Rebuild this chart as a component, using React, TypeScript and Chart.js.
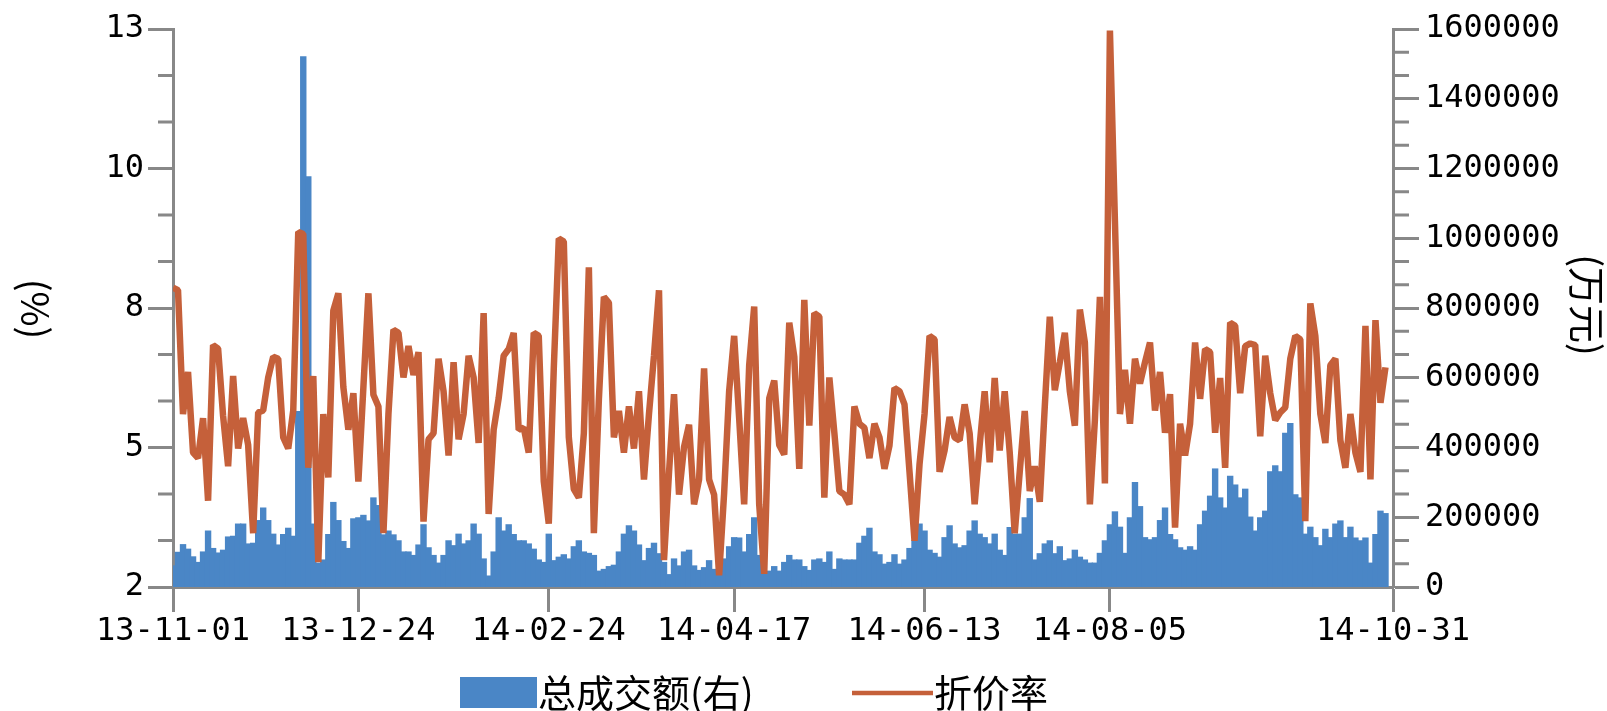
import React, { useEffect, useRef } from 'react';
import { Chart, registerables } from 'chart.js';

Chart.register(...registerables);

// ---- Data ----
const SERIES_NAMES = ['总成交额(右)', '折价率'];
const AXIS_TITLES = ['(%)', '(万元)'];

const X_TICK_POS = [0, 37, 75, 112, 150, 187, 243.5];
const X_TICK_LABELS = ['13-11-01', '13-12-24', '14-02-24', '14-04-17', '14-06-13', '14-08-05', '14-10-31'];

const Y_LEFT_TICK_VALUES = [2, 4.75, 7.5, 10.25, 13];
const Y_LEFT_TICK_LABELS = ['2', '5', '8', '10', '13'];

// 折价率 (%)
const DISCOUNT_RATE = [
  7.90, 7.85, 5.41, 6.24, 4.65, 4.54, 5.33, 3.70, 6.77, 6.70,
  5.37, 4.38, 6.16, 4.73, 5.33, 4.80, 3.06, 5.44, 5.48, 6.13,
  6.54, 6.50, 4.95, 4.73, 5.48, 9.00, 8.96, 4.35, 6.16, 2.49,
  5.41, 4.16, 7.45, 7.79, 5.94, 5.10, 5.82, 4.08, 5.94, 7.79,
  5.79, 5.56, 3.06, 5.41, 7.07, 7.01, 6.13, 6.75, 6.18, 6.63,
  3.29, 4.91, 5.03, 6.50, 5.86, 4.59, 6.43, 4.91, 5.41, 6.56,
  6.13, 4.84, 7.40, 3.44, 5.10, 5.72, 6.56, 6.69, 7.01, 5.10,
  5.14, 4.65, 7.01, 6.95, 4.08, 3.25, 6.31, 8.87, 8.81, 4.95,
  3.93, 3.76, 5.03, 8.30, 3.06, 5.70, 7.72, 7.60, 4.95, 5.47,
  4.65, 5.56, 4.73, 5.86, 4.12, 5.41, 6.56, 7.85, 2.53, 4.26,
  5.80, 3.82, 4.76, 5.20, 3.63, 4.12, 6.31, 4.12, 3.82, 2.23,
  3.85, 5.86, 6.95, 5.33, 3.63, 6.37, 7.53, 3.63, 2.26, 5.72,
  6.07, 4.80, 4.61, 7.21, 6.54, 4.33, 7.66, 5.18, 7.40, 7.33,
  3.76, 6.13, 5.04, 3.89, 3.82, 3.63, 5.56, 5.22, 5.14, 4.54,
  5.22, 4.95, 4.33, 4.79, 5.92, 5.86, 5.60, 4.27, 2.91, 4.42,
  5.41, 6.95, 6.88, 4.27, 4.69, 5.35, 4.95, 4.89, 5.60, 5.03,
  3.63, 4.79, 5.86, 4.46, 6.12, 4.69, 5.86, 4.65, 3.06, 4.27,
  5.47, 3.89, 4.38, 3.68, 5.56, 7.33, 5.88, 6.43, 7.01, 5.86,
  5.18, 7.47, 6.82, 3.63, 5.29, 7.72, 4.04, 12.97, 9.21, 5.41,
  6.28, 5.22, 6.50, 6.01, 6.43, 6.82, 5.48, 6.24, 5.04, 5.80,
  3.17, 5.22, 4.59, 5.22, 6.82, 5.71, 6.69, 6.63, 5.04, 6.12,
  4.35, 7.21, 7.15, 5.82, 6.75, 6.80, 6.77, 4.97, 6.56, 5.82,
  5.29, 5.44, 5.54, 6.50, 6.95, 6.88, 3.30, 7.59, 6.95, 5.41,
  4.84, 6.37, 6.50, 4.89, 4.35, 5.41, 4.65, 4.27, 7.15, 4.12,
  7.26, 5.63, 6.33,
];

// 总成交额 (万元)
const TURNOVER = [
  60000, 99000, 121000, 108000, 86000, 70000, 100000, 160000, 110000, 97000,
  105000, 143000, 145000, 180000, 180000, 123000, 125000, 190000, 226000, 190000,
  151000, 120000, 150000, 168000, 145000, 503000, 1520000, 1176000, 180000, 68000,
  77000, 150000, 242000, 190000, 130000, 110000, 195000, 198000, 205000, 189000,
  255000, 233000, 149000, 160000, 149000, 132000, 100000, 100000, 90000, 120000,
  178000, 112000, 90000, 68000, 90000, 132000, 118000, 151000, 123000, 132000,
  180000, 151000, 80000, 31000, 100000, 198000, 160000, 178000, 150000, 132000,
  132000, 123000, 108000, 77000, 70000, 151000, 75000, 85000, 92000, 80000,
  115000, 132000, 100000, 96000, 90000, 45000, 50000, 58000, 62000, 100000,
  151000, 175000, 160000, 120000, 75000, 110000, 125000, 95000, 70000, 35000,
  80000, 60000, 100000, 105000, 60000, 47000, 55000, 75000, 50000, 35000,
  80000, 115000, 141000, 140000, 100000, 150000, 198000, 90000, 39000, 45000,
  58000, 45000, 70000, 90000, 77000, 77000, 58000, 47000, 77000, 80000,
  70000, 100000, 50000, 80000, 77000, 77000, 77000, 125000, 145000, 168000,
  100000, 92000, 65000, 70000, 92000, 65000, 77000, 110000, 132000, 180000,
  160000, 105000, 96000, 85000, 141000, 175000, 123000, 112000, 118000, 160000,
  189000, 151000, 141000, 123000, 151000, 105000, 90000, 170000, 151000, 151000,
  198000, 253000, 77000, 95000, 123000, 132000, 95000, 115000, 75000, 80000,
  105000, 85000, 77000, 68000, 68000, 96000, 132000, 178000, 215000, 171000,
  96000, 198000, 299000, 230000, 141000, 135000, 141000, 190000, 226000, 150000,
  135000, 112000, 105000, 115000, 105000, 178000, 217000, 260000, 338000, 255000,
  226000, 317000, 292000, 255000, 280000, 200000, 160000, 198000, 217000, 330000,
  347000, 330000, 440000, 468000, 264000, 255000, 151000, 171000, 141000, 118000,
  165000, 141000, 180000, 189000, 141000, 171000, 140000, 132000, 140000, 68000,
  150000, 217000, 210000,
];

// ---- Styles ----
const BAR_COLOR = '#4A86C6';
const LINE_COLOR = '#C5603A';
const AXIS_COLOR = '#888888';
const TICK_FONT = { family: '"DejaVu Sans Mono", monospace', size: 32 };
const CJK_FONT = '"Noto Sans CJK SC", "Noto Sans", sans-serif';

const minorTicksPlugin = {
  id: 'minorTicks',
  afterDraw(chart: any) {
    const { ctx, chartArea, scales } = chart;
    const yL = scales.yL;
    const yR = scales.yR;
    ctx.save();
    ctx.strokeStyle = AXIS_COLOR;
    ctx.lineWidth = 3;
    ctx.beginPath();
    const lStep = (yL.max - yL.min) / 12;
    for (let k = 1; k < 12; k++) {
      if (k % 3 === 0) continue;
      const y = yL.getPixelForValue(yL.min + k * lStep);
      ctx.moveTo(chartArea.left - 15, y);
      ctx.lineTo(chartArea.left, y);
    }
    const rStep = (yR.max - yR.min) / 24;
    for (let k = 1; k < 24; k++) {
      if (k % 3 === 0) continue;
      const y = yR.getPixelForValue(yR.min + k * rStep);
      ctx.moveTo(chartArea.right, y);
      ctx.lineTo(chartArea.right + 16, y);
    }
    ctx.stroke();
    ctx.restore();
  },
};

const decorPlugin = {
  id: 'decor',
  afterDraw(chart: any) {
    const { ctx } = chart;
    ctx.save();
    ctx.fillStyle = '#000';
    ctx.textAlign = 'center';
    ctx.textBaseline = 'middle';
    ctx.font = `38px ${CJK_FONT}`;
    // axis titles, both rotated clockwise
    ctx.save();
    ctx.translate(35, 309);
    ctx.rotate(Math.PI / 2);
    ctx.fillText(AXIS_TITLES[0], 0, 0);
    ctx.restore();
    ctx.save();
    ctx.translate(1587, 305);
    ctx.rotate(Math.PI / 2);
    ctx.fillText(AXIS_TITLES[1], 0, 0);
    ctx.restore();

    // legend
    const ly = 693;
    ctx.font = `38px ${CJK_FONT}`;
    ctx.textAlign = 'left';
    ctx.fillStyle = BAR_COLOR;
    ctx.fillRect(460, 677, 77, 31);
    ctx.fillStyle = '#000';
    ctx.fillText(SERIES_NAMES[0], 538, ly);
    ctx.strokeStyle = LINE_COLOR;
    ctx.lineWidth = 4.5;
    ctx.beginPath();
    ctx.moveTo(852, ly);
    ctx.lineTo(933, ly);
    ctx.stroke();
    ctx.fillText(SERIES_NAMES[1], 934, ly);
    ctx.restore();
  },
};

export default function App() {
  const ref = useRef<HTMLCanvasElement>(null);

  useEffect(() => {
    if (!ref.current) return;
    const chart = new Chart(ref.current, {
      type: 'bar',
      data: {
        datasets: [
          {
            type: 'line',
            label: SERIES_NAMES[1],
            data: DISCOUNT_RATE.map((v, i) => ({ x: i, y: v })),
            borderColor: LINE_COLOR,
            backgroundColor: LINE_COLOR,
            borderWidth: 6.5,
            pointRadius: 0,
            tension: 0,
            fill: false,
            borderJoinStyle: 'bevel',
            borderCapStyle: 'butt',
            yAxisID: 'yL',
            xAxisID: 'x',
            order: 1,
          } as any,
          {
            type: 'bar',
            label: SERIES_NAMES[0],
            data: TURNOVER.map((v, i) => ({ x: i, y: v })),
            backgroundColor: BAR_COLOR,
            borderWidth: 0,
            inflateAmount: 0.7,
            barPercentage: 1,
            categoryPercentage: 1,
            yAxisID: 'yR',
            xAxisID: 'x',
            order: 2,
          } as any,
        ],
      },
      options: {
        animation: false,
        responsive: true,
        maintainAspectRatio: false,
        devicePixelRatio: 1,
        layout: { padding: { top: 29, left: 0, right: 0, bottom: 0 } },
        plugins: {
          legend: { display: false },
          tooltip: { enabled: false },
        },
        scales: {
          x: {
            type: 'linear',
            min: 0,
            max: 243.5,
            offset: false,
            grid: {
              display: true,
              offset: false,
              drawOnChartArea: false,
              drawTicks: true,
              tickLength: 25,
              tickWidth: 3,
              tickColor: AXIS_COLOR,
            },
            border: { display: true, color: AXIS_COLOR, width: 3 },
            afterBuildTicks: (scale: any) => {
              scale.ticks = X_TICK_POS.map((v) => ({ value: v }));
            },
            afterFit: (scale: any) => {
              scale.height = 124;
            },
            ticks: {
              autoSkip: false,
              maxRotation: 0,
              minRotation: 0,
              padding: 0,
              color: '#000',
              font: TICK_FONT,
              callback: (_v: any, i: number) => X_TICK_LABELS[i],
            },
          },
          yL: {
            type: 'linear',
            position: 'left',
            min: 2,
            max: 13,
            grid: {
              drawOnChartArea: false,
              drawTicks: true,
              tickLength: 25,
              tickWidth: 3,
              tickColor: AXIS_COLOR,
            },
            border: { display: true, color: AXIS_COLOR, width: 3 },
            afterBuildTicks: (scale: any) => {
              scale.ticks = Y_LEFT_TICK_VALUES.map((v) => ({ value: v }));
            },
            afterFit: (scale: any) => {
              scale.width = 173;
            },
            ticks: {
              padding: 4,
              color: '#000',
              font: TICK_FONT,
              callback: (_v: any, i: number) => Y_LEFT_TICK_LABELS[i],
            },
          },
          yR: {
            type: 'linear',
            position: 'right',
            min: 0,
            max: 1600000,
            grid: {
              drawOnChartArea: false,
              drawTicks: true,
              tickLength: 26,
              tickWidth: 3,
              tickColor: AXIS_COLOR,
            },
            border: { display: true, color: AXIS_COLOR, width: 3 },
            afterFit: (scale: any) => {
              scale.width = 214;
            },
            ticks: {
              stepSize: 200000,
              padding: 6,
              color: '#000',
              font: TICK_FONT,
              callback: (v: any) => String(v),
            },
          },
        },
      } as any,
      plugins: [minorTicksPlugin, decorPlugin],
    });
    return () => chart.destroy();
  }, []);

  return (
    <div
      style={{
        position: 'fixed',
        left: 0,
        top: 0,
        width: 1607,
        height: 711,
        background: '#ffffff',
      }}
    >
      <canvas ref={ref} />
    </div>
  );
}
